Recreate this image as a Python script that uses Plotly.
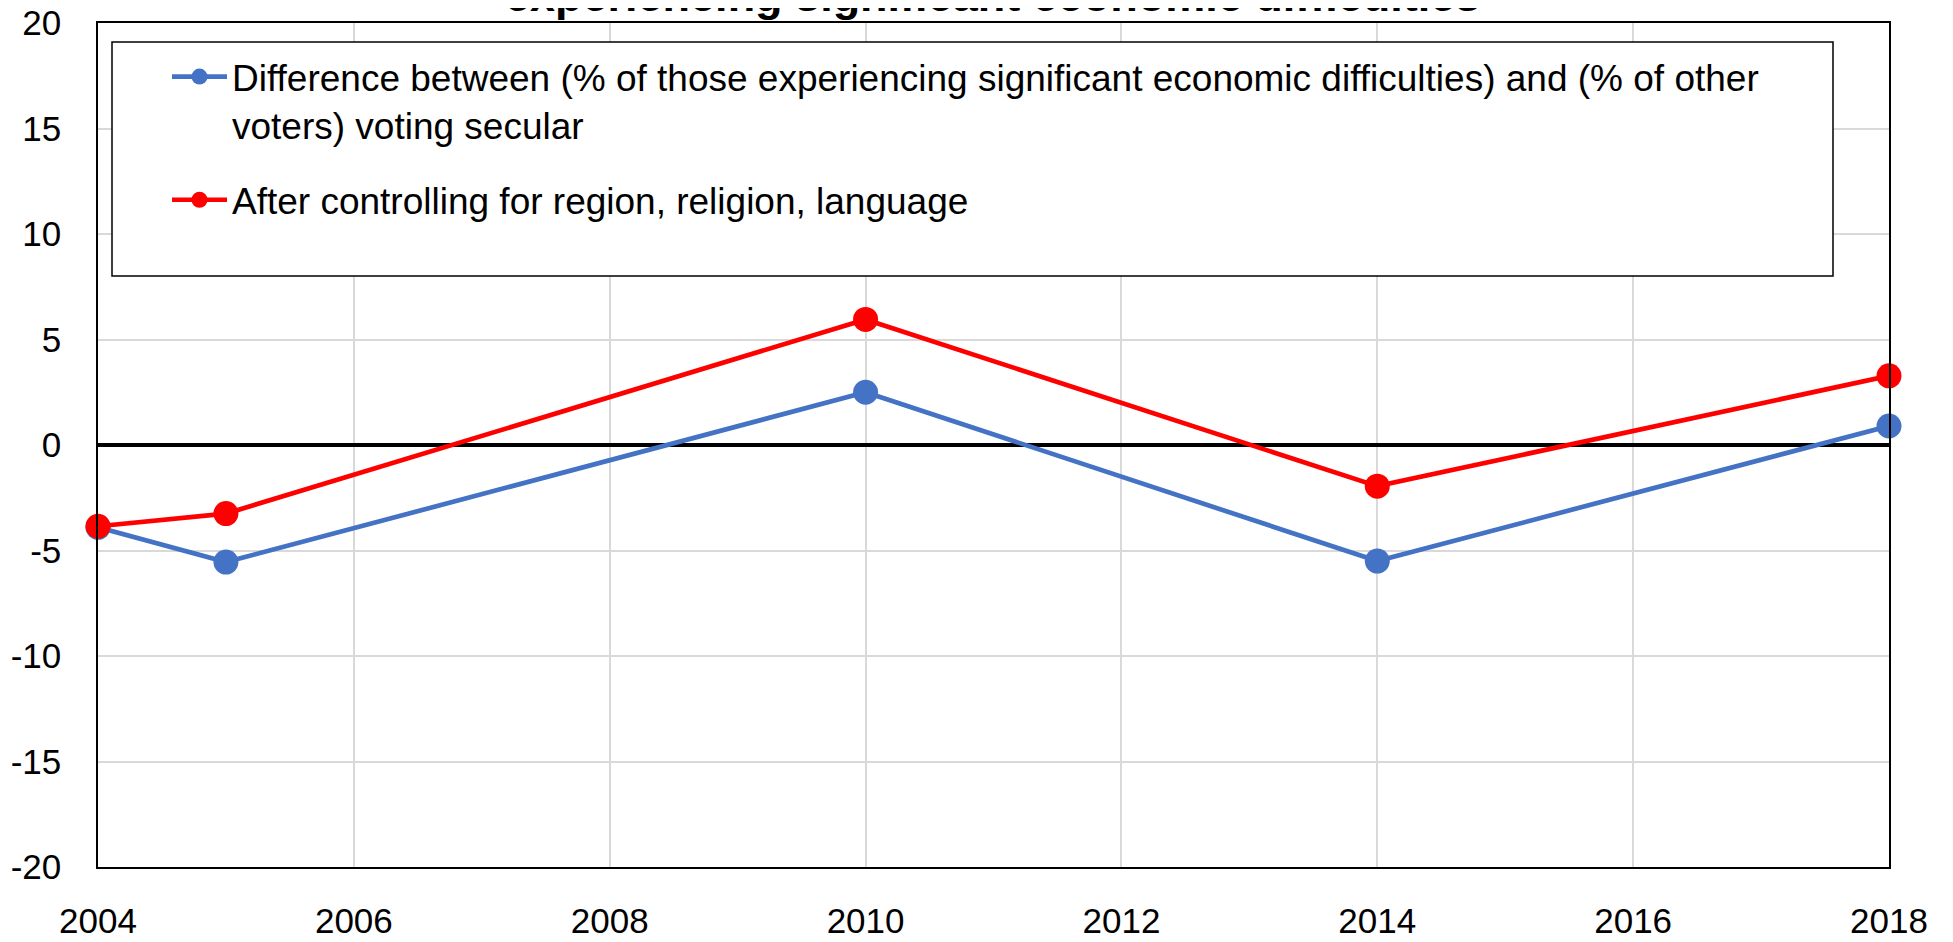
import plotly.graph_objects as go

years = [2004, 2005, 2010, 2014, 2018]
raw_diff = [-3.9, -5.55, 2.5, -5.5, 0.9]
controlled_diff = [-3.85, -3.25, 5.95, -1.95, 3.28]

series_names = [
    "Difference between (% of those experiencing significant economic difficulties) and (% of other<br>voters) voting secular",
    "After controlling for region, religion, language",
]
series_colors = ["#4472C4", "#FF0000"]

x_ticks = [2004, 2006, 2008, 2010, 2012, 2014, 2016, 2018]
y_ticks = [-20, -15, -10, -5, 0, 5, 10, 15, 20]
y_tick_labels = ["-20", "-15", "-10", "-5", "0", "5", "10", "15", "20"]
title_text = "experiencing significant economic difficulties"

FONT = "Liberation Sans, Arial, sans-serif"

fig = go.Figure()
for name, vals, col, grp in zip(series_names, [raw_diff, controlled_diff], series_colors, ["a", "b"]):
    fig.add_trace(go.Scatter(
        x=years, y=vals, name=name, mode="lines+markers", legendgroup=grp,
        line=dict(color=col, width=4.7),
        marker=dict(color=col, size=25, line=dict(width=0)),
        cliponaxis=False,
    ))

# page body has an 8px margin; target positions are screenshot pixels
OFF = 8
W, H = 1953, 942
L, R, T, B = 98 - OFF, 1889 - OFF, 23 - OFF, 867 - OFF
pw, ph = R - L, B - T

def px_x(x):
    return (x - OFF - L) / pw

def px_y(y):
    return (B - (y - OFF)) / ph

fig.add_shape(type="rect", xref="paper", yref="paper",
              x0=px_x(112), x1=px_x(1833), y0=px_y(276), y1=px_y(42),
              fillcolor="white", line=dict(color="black", width=1.5), layer="above")

fig.add_annotation(text="<b>" + title_text + "</b>", xref="paper", yref="paper",
                   x=px_x(992), y=px_y(23), xanchor="center", yanchor="bottom",
                   showarrow=False, font=dict(family=FONT, size=45, color="black"))

fig.update_layout(
    width=W, height=H,
    margin=dict(l=L, r=W - R, t=T, b=H - B, pad=0, autoexpand=False),
    paper_bgcolor="white", plot_bgcolor="white",
    font=dict(family=FONT, size=35, color="black"),
    showlegend=True,
    legend=dict(x=px_x(167), y=px_y(46), xanchor="left", yanchor="top",
                bgcolor="rgba(0,0,0,0)", borderwidth=0, valign="top",
                tracegroupgap=24, itemwidth=55,
                font=dict(family=FONT, size=37, color="black")),
    xaxis=dict(range=[2004, 2018], tickvals=x_ticks, showgrid=True,
               gridcolor="#d9d9d9", gridwidth=1.5, zeroline=False,
               showline=True, mirror=True, linecolor="black", linewidth=1.5,
               ticks="outside", ticklen=22, tickcolor="rgba(0,0,0,0)",
               automargin=False, ticklabeloverflow="allow",
               tickfont=dict(family=FONT, size=35, color="black")),
    yaxis=dict(range=[-20, 20], tickvals=y_ticks, ticktext=y_tick_labels,
               showgrid=True, gridcolor="#d9d9d9", gridwidth=1.5,
               zeroline=True, zerolinecolor="black", zerolinewidth=4,
               showline=True, mirror=True, linecolor="black", linewidth=1.5,
               ticks="outside", ticklen=28, tickcolor="rgba(0,0,0,0)",
               automargin=False, ticklabeloverflow="allow",
               tickfont=dict(family=FONT, size=35, color="black")),
)

fig.write_html("out.html")
